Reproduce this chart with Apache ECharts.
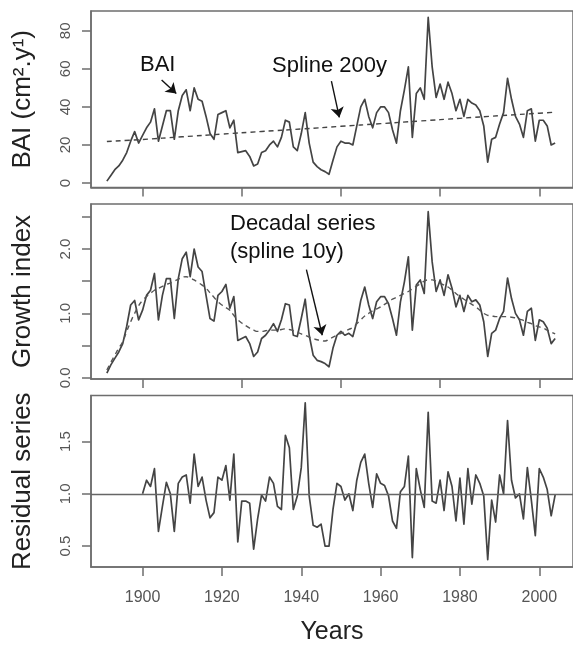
<!DOCTYPE html>
<html>
<head>
<meta charset="utf-8">
<script src="https://cdn.jsdelivr.net/npm/echarts@6/dist/echarts.min.js"></script>
<style>
  html, body { margin: 0; padding: 0; background: #fff; }
  #chart { width: 573px; height: 646px; }
</style>
</head>
<body>
<div id="chart"></div>
<script>
// years 1891-2004 (BAI, growth index, decadal spline), residuals 1900-2004
const firstYear = 1891;
const residFirstYear = 1900;

const bai = [
  1, 4, 7, 9, 12, 16, 22, 27, 21, 25,
  29, 32, 39, 22, 30, 38, 38, 23, 38, 46,
  49, 38, 50, 44, 43, 35, 26, 23, 36, 37,
  38, 29, 33, 16, 16.5, 17, 14, 9, 10, 16,
  17, 20, 22, 19, 24, 33, 32, 19, 17, 26,
  37, 21, 11, 8.6, 7, 6, 4.6, 12, 19, 22,
  21, 21, 20, 30, 40, 44, 35, 29, 37, 40,
  40, 37, 28, 21, 38, 49, 61, 24, 47, 50,
  44, 87, 61, 45, 52, 44, 53, 47, 38, 44,
  35, 44, 42, 41, 38, 30, 11, 23, 24, 31,
  37, 55, 44, 35, 31, 24, 38, 39, 22, 33,
  33, 30, 20, 21
];

const spline200Years = [1891, 1900, 1910, 1920, 1930, 1940, 1950, 1960, 1970, 1980, 1990, 2000, 2004];
const spline200 = [21.8, 22.9, 24.3, 25.7, 27.1, 28.4, 29.8, 31.2, 32.6, 34.0, 35.4, 36.7, 37.2];

const growth = [
  0.07, 0.2, 0.3, 0.4, 0.53, 0.8, 1.13, 1.2, 0.9, 1.05,
  1.28, 1.36, 1.62, 0.9, 1.28, 1.54, 1.54, 0.92, 1.54, 1.85,
  1.95, 1.57, 2.0, 1.72, 1.65, 1.28, 0.92, 0.88, 1.28, 1.34,
  1.45, 1.08, 1.26, 0.58, 0.61, 0.64, 0.53, 0.33, 0.4, 0.61,
  0.66, 0.74, 0.84, 0.72, 0.9, 1.15, 1.13, 0.66, 0.64, 0.92,
  1.22, 0.66, 0.35, 0.27, 0.25, 0.22, 0.17, 0.46, 0.66, 0.72,
  0.66, 0.69, 0.64, 0.87, 1.2, 1.41, 1.13, 0.92, 1.18, 1.26,
  1.26, 1.15, 0.92, 0.66, 1.18, 1.49, 1.88, 0.74, 1.44, 1.52,
  1.31, 2.58, 1.8, 1.34, 1.52, 1.28, 1.6, 1.39, 1.1, 1.28,
  1.03, 1.28, 1.18, 1.21, 1.13, 0.87, 0.33, 0.69, 0.74, 0.92,
  1.03, 1.55, 1.23, 1.0, 0.9, 0.66, 1.03, 1.08, 0.58, 0.9,
  0.87, 0.77, 0.53, 0.61
];

const decadal = [
  0.12, 0.24, 0.35, 0.46, 0.56, 0.72, 0.87, 1.0, 1.12, 1.2,
  1.26, 1.31, 1.36, 1.39, 1.42, 1.45, 1.47, 1.5, 1.53, 1.56,
  1.57, 1.55, 1.52, 1.48, 1.44, 1.39, 1.32, 1.25, 1.18, 1.13,
  1.09, 1.05, 0.97, 0.9, 0.85, 0.81, 0.77, 0.74, 0.72, 0.72,
  0.73, 0.74, 0.74, 0.74, 0.75, 0.76, 0.75, 0.73, 0.71, 0.68,
  0.66, 0.63, 0.61, 0.59, 0.58, 0.57, 0.6, 0.63, 0.66, 0.69,
  0.72, 0.75, 0.78, 0.84, 0.9, 0.96, 1.0, 1.04, 1.07, 1.1,
  1.14, 1.18, 1.22, 1.25, 1.28, 1.31, 1.34, 1.38, 1.42, 1.46,
  1.5, 1.52, 1.52, 1.5, 1.47, 1.44, 1.41, 1.36, 1.31, 1.26,
  1.22, 1.18, 1.14, 1.1, 1.05, 1.0, 0.97, 0.96, 0.95, 0.95,
  0.95, 0.95, 0.94, 0.93, 0.91, 0.89, 0.86, 0.84, 0.81, 0.79,
  0.77, 0.74, 0.71, 0.68
];

const residual = [
  1.0,
  1.13, 1.07, 1.24, 0.64, 0.88, 1.11, 1.0, 0.64, 1.1, 1.16,
  1.18, 0.91, 1.38, 1.07, 1.16, 0.94, 0.77, 0.82, 1.16, 1.13,
  1.27, 0.94, 1.38, 0.54, 0.93, 0.93, 0.91, 0.47, 0.76, 0.99,
  0.93, 1.16, 1.1, 0.88, 0.85, 1.56, 1.44, 0.85, 0.98, 1.25,
  1.87, 0.98, 0.7, 0.68, 0.71, 0.5, 0.5, 0.85, 1.1, 1.07,
  0.94, 1.0, 0.84, 1.13, 1.3, 1.38, 1.1, 0.87, 1.19, 1.1,
  1.08, 0.98, 0.74, 0.67, 1.02, 1.07, 1.36, 0.39, 1.24, 1.04,
  0.87, 1.78, 0.93, 0.91, 1.13, 0.84, 1.21, 1.07, 0.74, 1.15,
  0.71, 1.24, 0.9, 1.18, 1.1, 0.98, 0.37, 0.94, 0.73, 1.18,
  1.0, 1.7, 1.13, 0.96, 1.0, 0.76, 1.25, 0.94, 0.6, 1.24,
  1.16, 1.04, 0.79, 0.99
];

const topTicks = [1900, 1925, 1950, 1975, 2000];
const bottomTicks = [1900, 1920, 1940, 1960, 1980, 2000];

const FONT = '"Liberation Sans", Arial, sans-serif';
const BOX = '#6e6e6e';
const LINE = '#444';

const pairs = (start, vals) => vals.map((v, i) => [start + i, v]);

const chart = echarts.init(document.getElementById('chart'));

const grids = [
  { left: 91, right: -3, top: 11, height: 176.6 },
  { left: 91, right: -3, top: 204, height: 175 },
  { left: 91, right: -3, top: 395.5, height: 177 }
].map(g => Object.assign(g, { show: true, borderColor: BOX, borderWidth: 1.5, containLabel: false }));

function xAxisFor(i, ticks, showLabels) {
  return {
    type: 'value', gridIndex: i, min: 1887, max: 2008.5,
    axisLine: { show: true, onZero: false, lineStyle: { color: BOX, width: 1.5 } },
    axisTick: { show: true, length: 9, customValues: ticks, lineStyle: { color: BOX, width: 1.5 } },
    axisLabel: showLabels
      ? { show: true, customValues: ticks, margin: 23, fontSize: 16, color: '#555', fontFamily: FONT, formatter: v => String(v) }
      : { show: false },
    splitLine: { show: false },
    name: showLabels ? 'Years' : '',
    nameLocation: 'middle', nameGap: 53,
    nameTextStyle: { fontSize: 25, color: '#222', fontFamily: FONT }
  };
}

function yAxisFor(i, min, max, ticks, labels, name, fmt) {
  return {
    type: 'value', gridIndex: i, min: min, max: max,
    name: name, nameLocation: 'middle', nameGap: 55, nameRotate: 90,
    nameTextStyle: { fontSize: 26, color: '#222', fontFamily: FONT },
    axisLine: { show: true, onZero: false, lineStyle: { color: BOX, width: 1.5 } },
    axisTick: { show: true, length: 9, customValues: ticks, lineStyle: { color: BOX, width: 1.5 } },
    axisLabel: { customValues: labels, rotate: 90, margin: 18, fontSize: 15, color: '#555', fontFamily: FONT, formatter: fmt },
    splitLine: { show: false }
  };
}

const oneLine = { yAxis: 1, symbol: 'none', lineStyle: { type: 'solid', color: '#666', width: 1.3 } };
const arrow = (a, b) => [
  { coord: a, symbol: 'none' },
  { coord: b, symbol: 'arrow', symbolSize: 10 }
];

chart.setOption({
  animation: false,
  backgroundColor: '#fff',
  grid: grids,
  xAxis: [
    xAxisFor(0, topTicks, false),
    xAxisFor(1, topTicks, false),
    xAxisFor(2, bottomTicks, true)
  ],
  yAxis: [
    yAxisFor(0, -2.4, 90.4, [0, 20, 40, 60, 80], [0, 20, 40, 60, 80], 'BAI (cm².y¹)', v => String(v)),
    yAxisFor(1, -0.02, 2.7, [0, 0.5, 1, 1.5, 2, 2.5], [0, 1, 2], 'Growth index', v => v.toFixed(1)),
    yAxisFor(2, 0.3, 1.94, [0.5, 1, 1.5], [0.5, 1, 1.5], 'Residual series', v => v.toFixed(1))
  ],
  series: [
    {
      name: 'BAI', type: 'line', xAxisIndex: 0, yAxisIndex: 0,
      data: pairs(firstYear, bai), showSymbol: false,
      lineStyle: { color: LINE, width: 1.7, join: 'round' },
      markLine: {
        silent: true, animation: false,
        label: { show: false },
        lineStyle: { type: 'solid', color: '#111', width: 1.4 },
        data: [
          arrow([1904.8, 54.2], [1908.5, 47]),
          arrow([1947.6, 53.5], [1949.6, 34.5])
        ]
      }
    },
    {
      name: 'Spline 200y', type: 'line', xAxisIndex: 0, yAxisIndex: 0,
      data: spline200Years.map((y, i) => [y, spline200[i]]), showSymbol: false, smooth: true,
      lineStyle: { color: LINE, width: 1.4, type: [5, 4] }
    },
    {
      name: 'Growth index', type: 'line', xAxisIndex: 1, yAxisIndex: 1,
      data: pairs(firstYear, growth), showSymbol: false,
      lineStyle: { color: LINE, width: 1.7, join: 'round' },
      markLine: {
        silent: true, animation: false,
        label: { show: false },
        lineStyle: { type: 'solid', color: '#111', width: 1.4 },
        data: [
          [{ yAxis: 1, symbol: 'none', lineStyle: oneLine.lineStyle }, { yAxis: 1, symbol: 'none' }],
          arrow([1941.3, 1.68], [1945.3, 0.66])
        ]
      }
    },
    {
      name: 'Decadal series', type: 'line', xAxisIndex: 1, yAxisIndex: 1,
      data: pairs(firstYear, decadal), showSymbol: false, smooth: true,
      lineStyle: { color: '#555', width: 1.4, type: [5, 4] }
    },
    {
      name: 'Residual series', type: 'line', xAxisIndex: 2, yAxisIndex: 2,
      data: pairs(residFirstYear, residual), showSymbol: false,
      lineStyle: { color: LINE, width: 1.7, join: 'round' },
      markLine: {
        silent: true, animation: false, symbol: 'none',
        label: { show: false },
        data: [oneLine]
      }
    }
  ],
  graphic: [
    { type: 'text', x: 140, y: 65, style: { text: 'BAI', font: '22px ' + FONT, fill: '#111', verticalAlign: 'middle' } },
    { type: 'text', x: 272, y: 66, style: { text: 'Spline 200y', font: '22px ' + FONT, fill: '#111', verticalAlign: 'middle' } },
    { type: 'text', x: 230, y: 224, style: { text: 'Decadal series', font: '22px ' + FONT, fill: '#111', verticalAlign: 'middle' } },
    { type: 'text', x: 230, y: 252, style: { text: '(spline 10y)', font: '22px ' + FONT, fill: '#111', verticalAlign: 'middle' } }
  ]
});
</script>
</body>
</html>
